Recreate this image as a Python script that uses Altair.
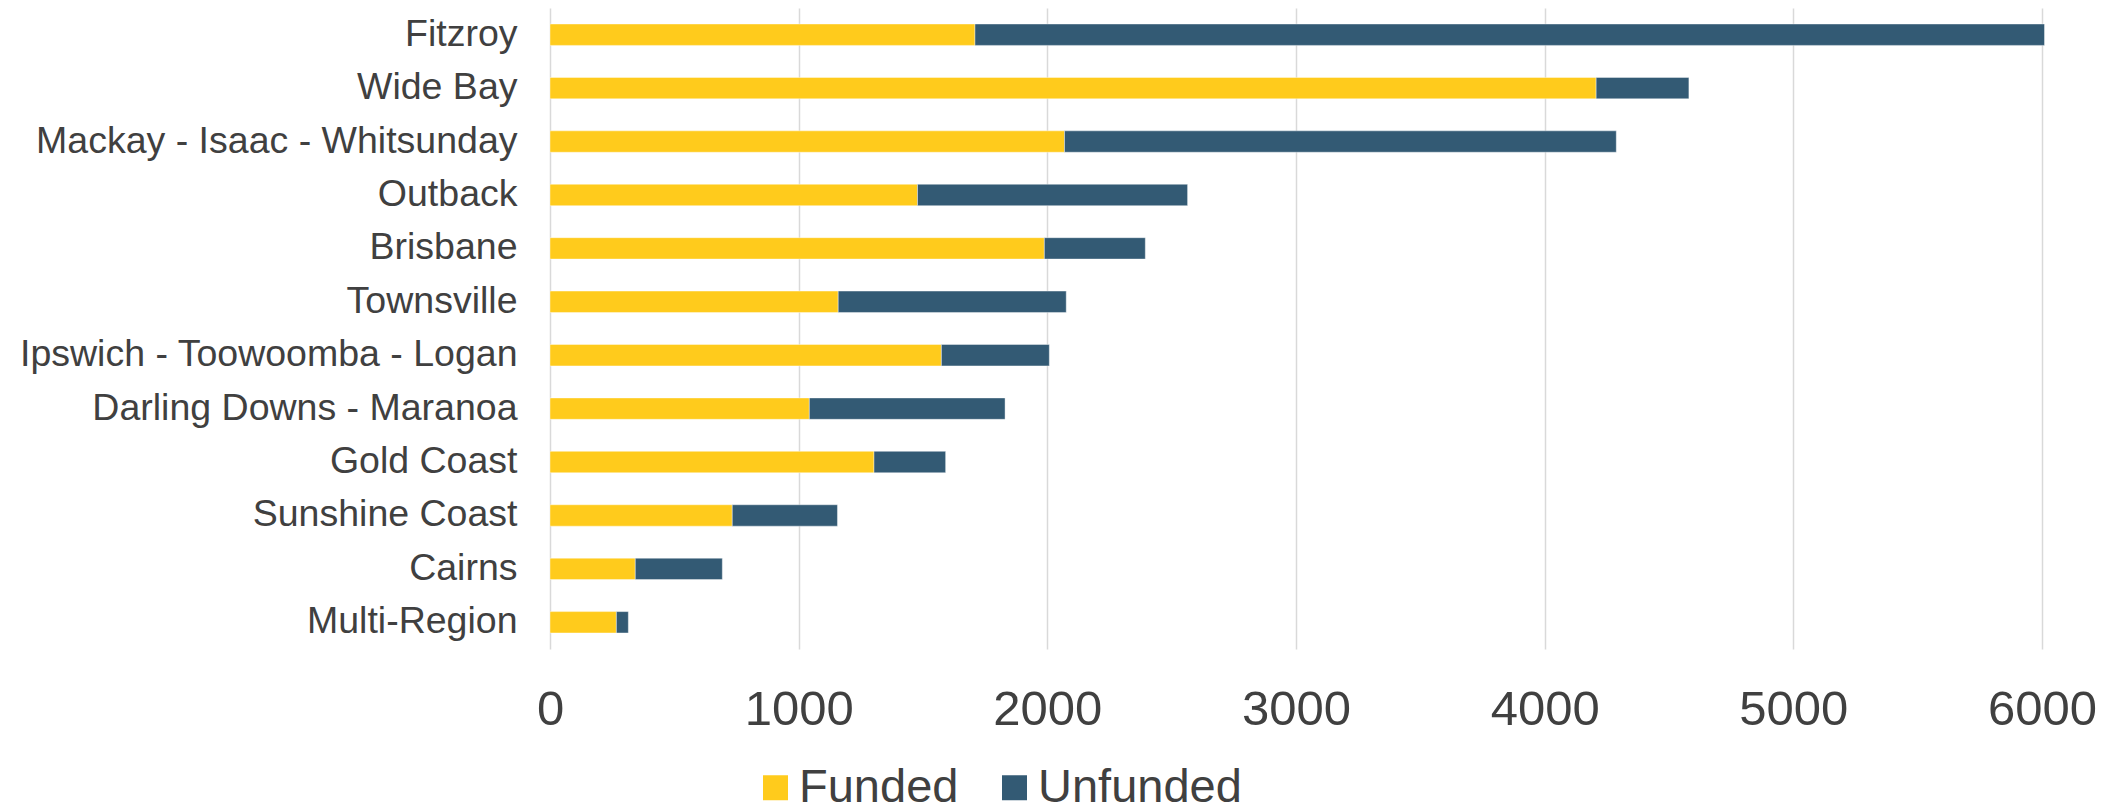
import altair as alt
import pandas as pd

regions = ["Fitzroy", "Wide Bay", "Mackay - Isaac - Whitsunday", "Outback", "Brisbane",
           "Townsville", "Ipswich - Toowoomba - Logan", "Darling Downs - Maranoa",
           "Gold Coast", "Sunshine Coast", "Cairns", "Multi-Region"]
funded = [1709, 4207, 2069, 1478, 1988, 1159, 1574, 1043, 1303, 733, 343, 267]
totals = [6010, 4580, 4288, 2564, 2394, 2076, 2008, 1830, 1591, 1156, 693, 315]
unfunded = [t - f for t, f in zip(totals, funded)]
series = ["Funded", "Unfunded"]
colors = ["#FFCB1C", "#335A74"]

rows = []
for i, r in enumerate(regions):
    rows.append({"region": r, "status": "Funded", "value": funded[i], "order": 0})
    rows.append({"region": r, "status": "Unfunded", "value": unfunded[i], "order": 1})
df = pd.DataFrame(rows)

font = "Liberation Sans"
chart = alt.Chart(df).mark_bar(stroke="#ffffff", strokeWidth=0.8, strokeOpacity=0.5).encode(
    y=alt.Y("region:N", sort=regions,
            scale=alt.Scale(paddingInner=0.6, paddingOuter=0.3),
            axis=alt.Axis(title=None, labelFontSize=37.5, labelColor="#404040", labelFont=font,
                          labelPadding=33, ticks=False, domain=False, labelLimit=1000)),
    x=alt.X("value:Q", stack="zero",
            scale=alt.Scale(domain=[0, 6000], nice=False),
            axis=alt.Axis(title=None, values=[0, 1000, 2000, 3000, 4000, 5000, 6000],
                          labelFontSize=49, labelColor="#404040", labelFont=font,
                          labelPadding=36, labelFlush=False, ticks=False, domain=False,
                          grid=True, gridColor="#d9d9d9", gridWidth=1.5, format="d")),
    color=alt.Color("status:N", scale=alt.Scale(domain=series, range=colors),
                    legend=alt.Legend(title=None, orient="none", direction="horizontal",
                                      legendX=202, legendY=756,
                                      labelFontSize=47, labelColor="#404040", labelFont=font,
                                      labelLimit=1000,
                                      symbolType="square", symbolSize=625, symbolStrokeWidth=0,
                                      columnPadding=32, labelOffset=0)),
    order=alt.Order("order:Q"),
).properties(
    width=1492, height=641,
    padding={"left": 10, "top": 0, "right": 5, "bottom": 5},
).configure_view(stroke=None)

chart.save("out.html", embed_options={"renderer": "svg", "actions": False})
